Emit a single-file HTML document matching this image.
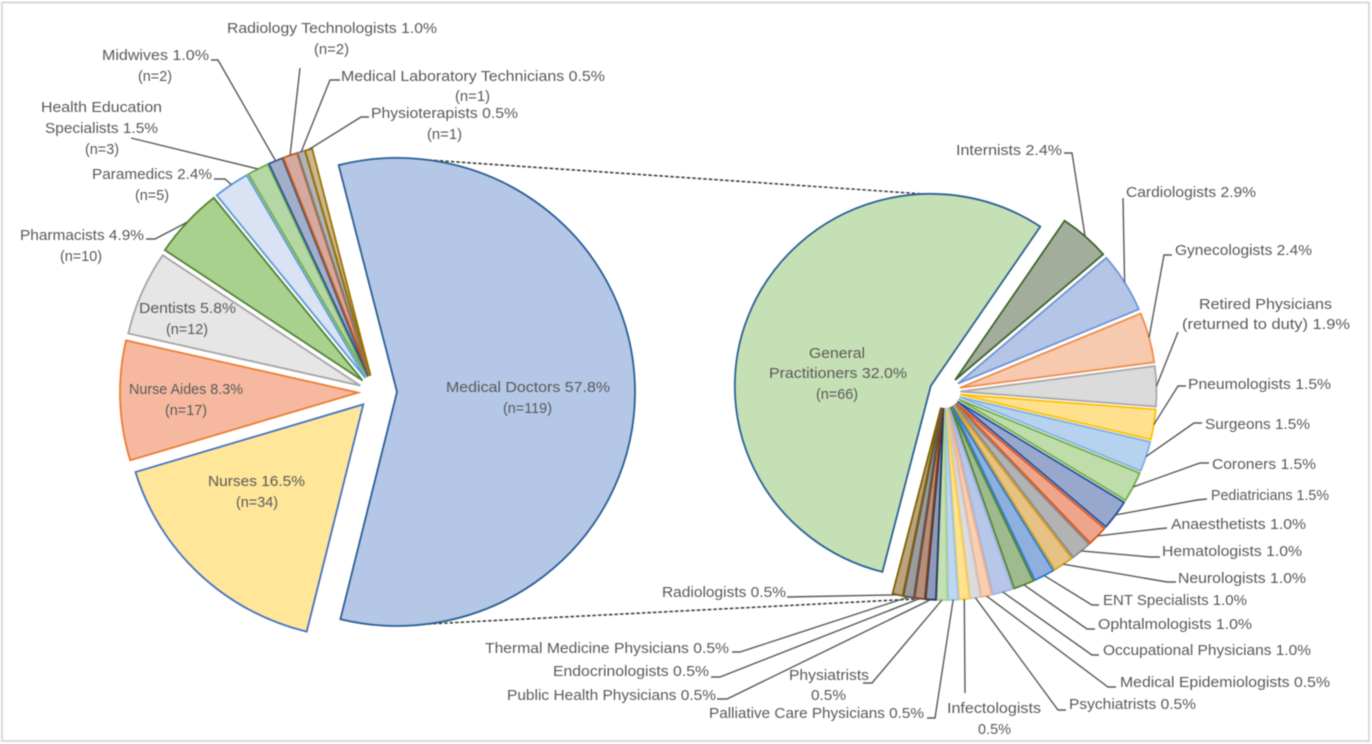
<!DOCTYPE html>
<html lang="en">
<head>
<meta charset="utf-8">
<title>Healthcare workers by profession</title>
<style>
html,body{margin:0;padding:0;background:#fff;}
#chart{display:block;width:1372px;height:744px;filter:blur(0.4px);}
text{font-family:"Liberation Sans",sans-serif;font-size:15px;fill:#595959;}
</style>
</head>
<body>
<svg id="chart" xmlns="http://www.w3.org/2000/svg" width="1372" height="744" viewBox="0 0 1372 744">
<rect x="2" y="2.5" width="1367" height="738.5" fill="#fff" stroke="#d9d9d9" stroke-width="2"/>
</svg>
<script>
// ---- data ----
var leftCategories = ["Medical Doctors","Nurses","Nurse Aides","Dentists","Pharmacists","Paramedics","Health Education|Specialists","Midwives","Radiology Technologists","Medical Laboratory Technicians","Physioterapists"];
var leftCounts = [119,34,17,12,10,5,3,2,2,1,1];
var rightCategories = ["General|Practitioners","Internists","Cardiologists","Gynecologists","Retired Physicians|(returned to duty)","Pneumologists","Surgeons","Coroners","Pediatricians","Anaesthetists","Hematologists","Neurologists","ENT Specialists","Ophtalmologists","Occupational Physicians","Medical Epidemiologists","Psychiatrists","Infectologists|","Palliative Care  Physicians","Physiatrists|","Public Health Physicians","Endocrinologists","Thermal Medicine Physicians","Radiologists"];
var rightCounts = [66,5,6,5,4,3,3,3,3,2,2,2,2,2,2,1,1,1,1,1,1,1,1,1];

// ---- styling and layout (not data) ----
var leftFills = ["#b4c7e7","#ffe699","#f6b9a0","#e6e6e6","#a9d18e","#dae3f3","#b5d6a5","#a3aec9","#d4a99f","#b4b4b4","#ceb68e"];
var leftStrokes = ["#2a5f94","#4472c4","#ed7d31","#a5a5a5","#548235","#5b9bd5","#70ad47","#2f5597","#c55a11","#7f7f7f","#997300"];
var rightFills = ["#c6e0b5","#a2ae9b","#b4c5e6","#f7c9ae","#dbdbdb","#ffe08f","#b7d2ee","#beddab","#98a7cc","#eea58c","#b3b3b3","#e6c285","#8fb0de","#9dbb8f","#b7c6e9","#f9cfb4","#dcdcdc","#ffe38f","#bdd7ee","#c5e0b4","#8e9ab8","#b58f7e","#9c9c9c","#bba37e"];
var rightStrokes = ["#2a6296","#3f6428","#6f95d8","#ed8f50","#a9a9a9","#ffc000","#7fb0e0","#70ad47","#264f9c","#d9561a","#8a8a8a","#d5a020","#2e7fd0","#548235","#9db5e5","#f4b183","#c9c9c9","#ffcf45","#9dc3e6","#a9d18e","#203864","#843c0c","#595959","#7f6000"];

var leftPie = {cx:375, cy:392, rx:238, ry:234, start:345.8, explode:[22,17,17,16,17,17,17,17,17,17,17]};
var rightPie = {cx:944.5, cy:392, rx:196, ry:192, start:194.3, explode:[15,16,16,16,16,16,16,16,16,16,16,16,16,16,16,16,16,16,16,16,16,16,16,16]};

// Each label: one [left, right, baseline] box per text line.
var leftLabelBoxes = [
 [[446,610,392],[503,552,413]],
 [[208,305,486],[236,278,507]],
 [[129,243,394],[165,207,415]],
 [[139,236,313],[166,208,334]],
 [[20,144,240],[60,102,261]],
 [[92,212,179],[135,169,200]],
 [[41,162,112],[45,158,133],[85,119,154]],
 [[102,209,60],[138,172,81]],
 [[227,437,33],[314,349,54]],
 [[341,605,81],[455,490,101]],
 [[371,518,118],[427,462,139]]
];
var rightLabelBoxes = [
 [[809,865,358],[769,907,378],[816,858,399]],
 [[956,1062,155]],
 [[1126,1256,197]],
 [[1175,1312,255]],
 [[1199,1332,309],[1182,1350,329]],
 [[1188,1331,389]],
 [[1205,1310,429]],
 [[1212,1316,469]],
 [[1211,1329,500]],
 [[1171,1306,529]],
 [[1162,1302,556]],
 [[1178,1306,583]],
 [[1103,1247,605]],
 [[1098,1252,629]],
 [[1103,1311,655]],
 [[1120,1330,687]],
 [[1069,1196,709]],
 [[947,1041,713],[978,1011,734]],
 [[709,924,718]],
 [[789,869,680],[811,846,700]],
 [[507,716,700]],
 [[553,709,676]],
 [[485,729,653]],
 [[662,786,597]]
];
// Leader elbows near each label; the last point is computed from the slice.
var leftLeaders = [null,null,null,null,
 [[146,239],[155,239]],
 [[214,179],[225,179]],
 [[131,138]],
 [[211,60],[218,60]],
 [[300,68]],
 [[340,80],[330,80]],
 [[369,117],[361,117]]
];
var rightLeaders = [null,
 [[1064,153],[1072,153]],
 [[1123,198]],
 [[1172,255],[1164,255]],
 [[1178,332]],
 [[1186,386],[1178,386]],
 [[1202,423],[1194,423]],
 [[1209,463],[1200,463]],
 [[1207,499],[1197,500]],
 [[1167,528],[1157,529]],
 [[1160,557],[1150,557]],
 [[1176,582],[1167,582]],
 [[1099,605],[1092,605]],
 [[1095,629],[1087,629]],
 [[1099,655],[1092,655]],
 [[1116,687],[1108,687]],
 [[1066,710],[1058,710]],
 [[965,693]],
 [[927,718],[935,718]],
 [[863,683],[872,683]],
 [[717,699],[727,699]],
 [[711,677],[720,677]],
 [[732,652],[740,652]],
 [[787,597]]
];

// ---- drawing ----
var NS = "http://www.w3.org/2000/svg";
var svg = document.getElementById("chart");
var grandTotal = leftCounts.reduce(function(a,b){return a+b;},0);

function make(tag, attrs){
  var el = document.createElementNS(NS, tag);
  for (var k in attrs) el.setAttribute(k, attrs[k]);
  svg.appendChild(el);
  return el;
}
function rad(a){return a*Math.PI/180;}
function polar(pie, ang){
  // clockwise from top, on the pie's outer edge
  return {x: pie.cx + pie.rx*Math.sin(rad(ang)), y: pie.cy - pie.ry*Math.cos(rad(ang))};
}
function apexOf(pie, mid, ex){
  return {x: pie.cx + ex*Math.sin(rad(mid)), y: pie.cy - ex*Math.cos(rad(mid))};
}
function angleScale(counts){
  var total = counts.reduce(function(a,b){return a+b;},0);
  return function(v){return v/total*360;};
}
function slug(s){
  return s.replace(/[^A-Za-z]+/g,"-").replace(/-+$/,"").toLowerCase();
}
function computeSlices(pie, counts){
  var scale = angleScale(counts), a = pie.start, out = [];
  counts.forEach(function(v,i){
    var sweep = scale(v), mid = a + sweep/2, apex = apexOf(pie, mid, pie.explode[i]);
    var p0 = polar(pie, a), p1 = polar(pie, a+sweep), pm = polar(pie, mid);
    out.push({
      apex: apex,
      from: {x:p0.x+apex.x-pie.cx, y:p0.y+apex.y-pie.cy},
      to: {x:p1.x+apex.x-pie.cx, y:p1.y+apex.y-pie.cy},
      mid: {x:pm.x+apex.x-pie.cx, y:pm.y+apex.y-pie.cy},
      large: sweep > 180 ? 1 : 0,
      startAngle: a, sweep: sweep
    });
    a += sweep;
  });
  return out;
}
function arcPoint(pie, slice, angle){
  var p = polar(pie, angle);
  return {x:p.x+slice.apex.x-pie.cx, y:p.y+slice.apex.y-pie.cy};
}

var leftSlices = computeSlices(leftPie, leftCounts);
var rightSlices = computeSlices(rightPie, rightCounts);

// series connector lines between the two pies
var docSlice = leftSlices[0], gpSlice = rightSlices[0];
var connectTop = [arcPoint(leftPie, docSlice, 7.7), arcPoint(rightPie, gpSlice, 358)];
var connectBottom = [arcPoint(leftPie, docSlice, 172.6), {x:rightPie.cx-9, y:rightPie.cy+206}];
[connectTop, connectBottom].forEach(function(pair, i){
  var ln = make("line", {x1:pair[0].x, y1:pair[0].y, x2:pair[1].x, y2:pair[1].y, stroke:"#404040", "stroke-width":1.6, "stroke-dasharray":"3.5 2"});
  
  
});

function drawSlices(pie, slices, cats, fills, strokes, prefix){
  slices.forEach(function(s,i){
    var d = "M"+s.apex.x.toFixed(2)+" "+s.apex.y.toFixed(2)+"L"+s.from.x.toFixed(2)+" "+s.from.y.toFixed(2)+
      "A"+pie.rx+" "+pie.ry+" 0 "+s.large+" 1 "+s.to.x.toFixed(2)+" "+s.to.y.toFixed(2)+"Z";
    var path = make("path", {d:d, fill:fills[i], stroke:strokes[i], "stroke-width":1.8, "stroke-linejoin":"miter"});
    
    
  });
}
function drawLeaders(slices, leaders, cats){
  leaders.forEach(function(pts,i){
    if (!pts) return;
    var all = pts.concat([slices[i].mid]);
    var line = make("polyline", {points: all.map(function(p){
      return (p.x !== undefined ? p.x : p[0]) + "," + (p.y !== undefined ? p.y : p[1]);
    }).join(" "), fill:"none", stroke:"#595959", "stroke-width":1.4});
    
    
  });
}
function labelLines(cat, count, withN){
  var pct = (count/grandTotal*100).toFixed(1) + "%";
  var parts = cat.split("|"), last = parts.length-1;
  parts[last] = parts[last] ? parts[last] + " " + pct : pct;
  if (withN) parts.push("(n=" + count + ")");
  return parts;
}
function drawLabels(cats, counts, boxes, withN){
  cats.forEach(function(cat,i){
    var lines = labelLines(cat, counts[i], withN || i === 0);
    lines.forEach(function(str,j){
      var b = boxes[i][j];
      var t = make("text", {x:(b[0]+b[1])/2, y:b[2], "text-anchor":"middle", textLength:b[1]-b[0], lengthAdjust:"spacingAndGlyphs"});
      t.setAttribute('xml:space', 'preserve');
      
      
      t.textContent = str;
    });
  });
}

drawSlices(leftPie, leftSlices, leftCategories, leftFills, leftStrokes, "main");
drawSlices(rightPie, rightSlices, rightCategories, rightFills, rightStrokes, "secondary");
drawLeaders(leftSlices, leftLeaders, leftCategories);
drawLeaders(rightSlices, rightLeaders, rightCategories);
drawLabels(leftCategories, leftCounts, leftLabelBoxes, true);
drawLabels(rightCategories, rightCounts, rightLabelBoxes, false);
</script>
</body>
</html>
